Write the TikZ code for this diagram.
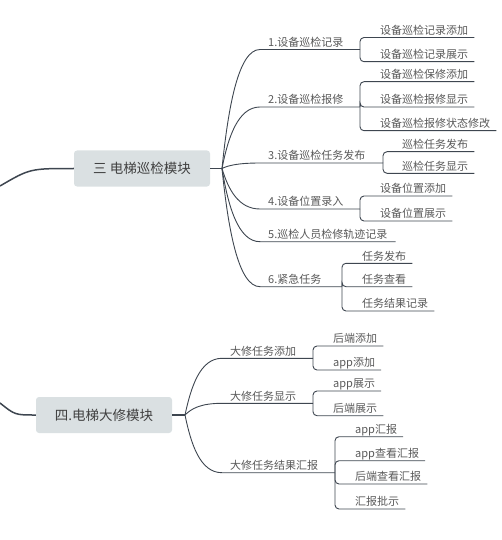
\documentclass[tikz,border=0pt]{standalone}
\usepackage{fontspec}
\newfontfamily\cjk{Noto Sans CJK SC}
\usepackage{tikz}
\definecolor{linegray}{HTML}{3E4650}
\definecolor{textgray}{HTML}{595959}
\definecolor{boxfill}{HTML}{DAE0E2}
\definecolor{boxtext}{HTML}{404040}
\tikzset{
	topic/.style={fill=boxfill,rounded corners=3pt,text=boxtext,font=\cjk\fontsize{13.5}{16}\selectfont,minimum width=136pt,minimum height=36pt,inner sep=0pt},
	branchtxt/.style={anchor=south west,text=textgray,font=\cjk\fontsize{11}{13}\selectfont,inner xsep=8pt,inner ysep=3pt,text depth=0pt},
	leaftxt/.style={branchtxt,inner xsep=6pt},
	trunk/.style={draw=linegray,line width=1.5pt},
	branch/.style={draw=linegray,line width=0.9pt},
	twig/.style={draw=linegray,line width=0.9pt,rounded corners=4pt},
}

\begin{document}
\begin{tikzpicture}[x=1pt,y=-1pt]
	\useasboundingbox (0,0) rectangle (502,540);
	% 
	\node[topic] (m3) at (142,168.5) {三 电梯巡检模块};
	\node[topic] (m4) at (104,415) {四.电梯大修模块};
	\coordinate (in3) at (0,186);
	\coordinate (in4) at (0,403);
	\coordinate (h3) at (222,168.5);
	\coordinate (h4) at (185,415);
	% 
	\node[branchtxt] (a1) at (260,49.5) {1.设备巡检记录};
	\node[branchtxt] (a2) at (260,107) {2.设备巡检报修};
	\node[branchtxt] (a3) at (260,163) {3.设备巡检任务发布};
	\node[branchtxt] (a4) at (260,209) {4.设备位置录入};
	\node[branchtxt] (a5) at (260,241.7) {5.巡检人员检修轨迹记录};
	\node[branchtxt] (a6) at (260,286.7) {6.紧急任务};
	\coordinate (ja1) at (360,49.5);
	\coordinate (ja2) at (360,107);
	\coordinate (ja3) at (383,163);
	\coordinate (ja4) at (360,209);
	\coordinate (ja6) at (342,286.7);
	% 
	\node[leaftxt] (b11) at (374,37.5) {设备巡检记录添加};
	\node[leaftxt] (b12) at (374,61.7) {设备巡检记录展示};
	\node[leaftxt] (b21) at (374,81.7) {设备巡检保修添加};
	\node[leaftxt] (b22) at (374,107) {设备巡检报修显示};
	\node[leaftxt] (b23) at (374,130.7) {设备巡检报修状态修改};
	\node[leaftxt] (b31) at (396,151.7) {巡检任务发布};
	\node[leaftxt] (b32) at (396,173.3) {巡检任务显示};
	\node[leaftxt] (b41) at (374,196) {设备位置添加};
	\node[leaftxt] (b42) at (374,221) {设备位置展示};
	\node[leaftxt] (b61) at (356,263.3) {任务发布};
	\node[leaftxt] (b62) at (356,286.7) {任务查看};
	\node[leaftxt] (b63) at (356,311) {任务结果记录};
	% 
	\node[branchtxt] (c1) at (222,358.3) {大修任务添加};
	\node[branchtxt] (c2) at (222,403.3) {大修任务显示};
	\node[branchtxt] (c3) at (222,472.7) {大修任务结果汇报};
	\coordinate (jc1) at (313,358.3);
	\coordinate (jc2) at (313,403.3);
	\coordinate (jc3) at (335,472.7);
	% 
	\node[leaftxt] (d11) at (327,346) {后端添加};
	\node[leaftxt] (d12) at (327,370) {app添加};
	\node[leaftxt] (d21) at (327,391) {app展示};
	\node[leaftxt] (d22) at (327,415.7) {后端展示};
	\node[leaftxt] (d31) at (349,436.7) {app汇报};
	\node[leaftxt] (d32) at (349,460.7) {app查看汇报};
	\node[leaftxt] (d33) at (349,484) {后端查看汇报};
	\node[leaftxt] (d34) at (349,509) {汇报批示};
	% 
	\draw[trunk] (in3) .. controls (30,168.5) .. (m3.west);
	\draw[trunk] (m3.east) -- (h3);
	\draw[trunk] (in4) .. controls (15,415) .. (m4.west);
	\draw[trunk] (m4.east) -- (h4);
	% 
	\draw[branch] (h3) .. controls +(6,-59) and +(-22,0) .. (a1.south west) -- (ja1);
	\draw[branch] (h3) .. controls +(6,-31) and +(-22,0) .. (a2.south west) -- (ja2);
	\draw[branch] (h3) .. controls +(6,-3) and +(-22,0) .. (a3.south west) -- (ja3);
	\draw[branch] (h3) .. controls +(6,20) and +(-22,0) .. (a4.south west) -- (ja4);
	\draw[branch] (h3) .. controls +(6,37) and +(-22,0) .. (a5.south west) -- (a5.south east);
	\draw[branch] (h3) .. controls +(6,59) and +(-22,0) .. (a6.south west) -- (ja6);
	\draw[branch] (h4) .. controls +(6,-28) and +(-22,0) .. (c1.south west) -- (jc1);
	\draw[branch] (h4) .. controls +(6,-6) and +(-22,0) .. (c2.south west) -- (jc2);
	\draw[branch] (h4) .. controls +(6,29) and +(-22,0) .. (c3.south west) -- (jc3);
	% 
	\draw[twig] (ja1) |- (b11.south east);
	\draw[twig] (ja1) |- (b12.south east);
	\draw[twig] (ja2) |- (b21.south east);
	\draw[twig] (ja2) |- (b22.south east);
	\draw[twig] (ja2) |- (b23.south east);
	\draw[twig] (ja3) |- (b31.south east);
	\draw[twig] (ja3) |- (b32.south east);
	\draw[twig] (ja4) |- (b41.south east);
	\draw[twig] (ja4) |- (b42.south east);
	\draw[twig] (ja6) |- (b61.south east);
	\draw[twig] (ja6) |- (b62.south east);
	\draw[twig] (ja6) |- (b63.south east);
	\draw[twig] (jc1) |- (d11.south east);
	\draw[twig] (jc1) |- (d12.south east);
	\draw[twig] (jc2) |- (d21.south east);
	\draw[twig] (jc2) |- (d22.south east);
	\draw[twig] (jc3) |- (d31.south east);
	\draw[twig] (jc3) |- (d32.south east);
	\draw[twig] (jc3) |- (d33.south east);
	\draw[twig] (jc3) |- (d34.south east);
\end{tikzpicture}
\end{document}
